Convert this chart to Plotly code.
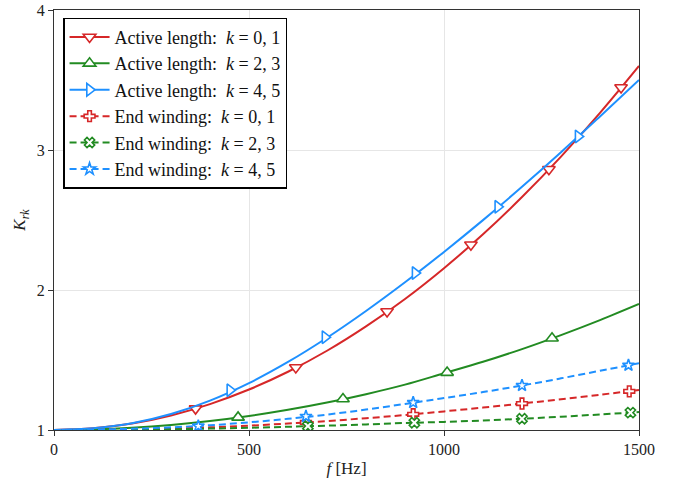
import plotly.graph_objects as go

# ---- data ----
f_grid = [0, 100, 200, 300, 400, 500, 600, 700, 800, 900, 1000, 1100, 1200, 1300, 1400, 1500]

act_k01 = [1.0, 1.012, 1.046, 1.104, 1.185, 1.289, 1.416, 1.566, 1.740, 1.936, 2.156, 2.398, 2.664, 2.953, 3.265, 3.600]
act_k23 = [1.0, 1.004, 1.016, 1.036, 1.064, 1.100, 1.144, 1.196, 1.256, 1.324, 1.405, 1.487, 1.578, 1.678, 1.785, 1.900]
act_k45 = [1.0, 1.012, 1.048, 1.114, 1.210, 1.335, 1.486, 1.659, 1.850, 2.055, 2.272, 2.499, 2.737, 2.984, 3.240, 3.500]
end_k01 = [1.0, 1.001, 1.004, 1.010, 1.019, 1.031, 1.046, 1.064, 1.084, 1.107, 1.133, 1.160, 1.189, 1.220, 1.252, 1.285]
end_k23 = [1.0, 1.000, 1.002, 1.005, 1.010, 1.016, 1.023, 1.031, 1.040, 1.050, 1.058, 1.068, 1.080, 1.095, 1.111, 1.128]
end_k45 = [1.0, 1.003, 1.009, 1.019, 1.034, 1.055, 1.080, 1.110, 1.146, 1.186, 1.228, 1.271, 1.318, 1.369, 1.423, 1.477]

# marker positions (as they appear along the curves)
mk_act_k01_f = [363, 620, 854, 1069, 1269, 1454]
mk_act_k01_v = [1.153, 1.446, 1.846, 2.323, 2.863, 3.446]
mk_act_k23_f = [472, 741, 1008, 1277]
mk_act_k23_v = [1.090, 1.221, 1.410, 1.655]
mk_act_k45_f = [451, 695, 926, 1138, 1344]
mk_act_k45_v = [1.284, 1.663, 2.121, 2.594, 3.097]
mk_end_k01_f = [646, 921, 1200, 1475]
mk_end_k01_v = [1.054, 1.112, 1.189, 1.276]
mk_end_k23_f = [651, 924, 1200, 1478]
mk_end_k23_v = [1.028, 1.052, 1.080, 1.124]
mk_end_k45_f = [370, 646, 921, 1200, 1473]
mk_end_k45_v = [1.028, 1.097, 1.196, 1.318, 1.462]

y_ticks = [1, 2, 3, 4]
x_ticks = [0, 500, 1000, 1500]

labels = [
    "Active length:&nbsp; <i>k</i> = 0, 1",
    "Active length:&nbsp; <i>k</i> = 2, 3",
    "Active length:&nbsp; <i>k</i> = 4, 5",
    "End winding:&nbsp; <i>k</i> = 0, 1",
    "End winding:&nbsp; <i>k</i> = 2, 3",
    "End winding:&nbsp; <i>k</i> = 4, 5",
]

RED = "#d62728"
GREEN = "#228b22"
BLUE = "#1e90ff"

series = [
    (act_k01, mk_act_k01_f, mk_act_k01_v, RED, "solid", "triangle-down", 11),
    (act_k23, mk_act_k23_f, mk_act_k23_v, GREEN, "solid", "triangle-up", 11),
    (act_k45, mk_act_k45_f, mk_act_k45_v, BLUE, "solid", "triangle-right", 11),
    (end_k01, mk_end_k01_f, mk_end_k01_v, RED, "dash", "cross", 9),
    (end_k23, mk_end_k23_f, mk_end_k23_v, GREEN, "dash", "x", 9),
    (end_k45, mk_end_k45_f, mk_end_k45_v, BLUE, "dash", "star", 9),
]

fig = go.Figure()
dash_pat = "7px,4px"
for (vals, mf, mv, col, dash, sym, msz), lab in zip(series, labels):
    d = "solid" if dash == "solid" else dash_pat
    fig.add_trace(go.Scatter(x=f_grid, y=vals, mode="lines", showlegend=False,
                             line=dict(color=col, width=2, dash=d, shape="spline"),
                             hoverinfo="skip"))
    marker = dict(symbol=sym, size=msz, color="white", line=dict(color=col, width=1.6))
    fig.add_trace(go.Scatter(x=mf, y=mv, mode="markers", showlegend=False, marker=marker))
    fig.add_trace(go.Scatter(x=[None], y=[None], mode="lines+markers", name=lab,
                             line=dict(color=col, width=2, dash=d), marker=marker))

FONT = "Liberation Serif"
fig.update_layout(
    width=684, height=486,
    margin=dict(l=54, r=45, t=10, b=56, autoexpand=False),
    paper_bgcolor="white", plot_bgcolor="white",
    font=dict(family=FONT, size=16, color="#222"),
    showlegend=True,
    legend=dict(x=0.016, y=0.982, xanchor="left", yanchor="top",
                bgcolor="white", bordercolor="black", borderwidth=1.2,
                font=dict(family=FONT, size=18, color="#111"),
                tracegroupgap=0, itemwidth=40),
)
fig.update_xaxes(range=[0, 1500], tickvals=x_ticks,
                 showgrid=True, gridcolor="#e6e6e6", gridwidth=1,
                 showline=True, linecolor="#333", linewidth=1.2, mirror=True,
                 ticks="outside", ticklen=5, tickcolor="#333",
                 ticklabeloverflow="allow",
                 zeroline=False, automargin=False,
                 title=dict(text="<i>f</i> [Hz]", standoff=4, font=dict(size=17)))
fig.update_yaxes(range=[1, 4], tickvals=y_ticks,
                 showgrid=True, gridcolor="#e6e6e6", gridwidth=1,
                 showline=True, linecolor="#333", linewidth=1.2, mirror=True,
                 ticks="outside", ticklen=5, tickcolor="#333",
                 ticklabeloverflow="allow",
                 zeroline=False, automargin=False,
                 title=dict(text="<i>K<sub>rk</sub></i>", standoff=6, font=dict(size=17)))

fig.write_html("out.html")
